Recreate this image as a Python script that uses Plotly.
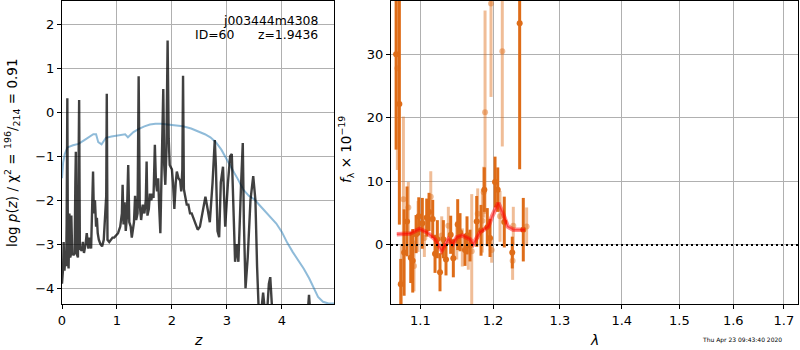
import numpy as np
import plotly.graph_objects as go

# ---------------- Left panel: redshift PDF ----------------
z_pz = [0.00, 0.02, 0.03, 0.045, 0.06, 0.075, 0.085, 0.097, 0.108, 0.12, 0.135, 0.15, 0.16, 0.17,
        0.185, 0.21, 0.23, 0.243, 0.252, 0.262, 0.29, 0.303, 0.312, 0.325, 0.36, 0.38, 0.40, 0.43,
        0.45, 0.48, 0.50, 0.53, 0.55, 0.565, 0.58, 0.60, 0.62, 0.635, 0.65, 0.67, 0.70, 0.73,
        0.76, 0.79, 0.805, 0.815, 0.828, 0.86, 0.89, 0.92, 0.95, 0.98, 1.02, 1.06, 1.09, 1.103,
        1.12, 1.14, 1.16, 1.18, 1.205, 1.225, 1.25, 1.27, 1.29, 1.31, 1.33, 1.35, 1.375, 1.395,
        1.415, 1.44, 1.47, 1.50, 1.525, 1.54, 1.555, 1.58, 1.60, 1.625, 1.645, 1.665, 1.69, 1.71,
        1.73, 1.75, 1.77, 1.79, 1.81, 1.83, 1.843, 1.86, 1.88, 1.90, 1.922, 1.942, 1.96, 1.98,
        2.00, 2.02, 2.045, 2.07, 2.09, 2.12, 2.15, 2.17, 2.19, 2.203, 2.218, 2.24, 2.27, 2.30,
        2.33, 2.36, 2.40, 2.43, 2.47, 2.51, 2.56, 2.61, 2.65, 2.69, 2.74, 2.78, 2.80, 2.83,
        2.86, 2.89, 2.93, 2.97, 3.02, 3.06, 3.09, 3.12, 3.15, 3.18, 3.21, 3.26, 3.29, 3.31,
        3.34, 3.38, 3.43, 3.48, 3.52, 3.55, 3.58, 3.62, 3.66, 3.69, 3.73, 3.765, 3.79, 3.82,
        3.86, 4.00, 4.30, 4.47, 4.495, 4.52, 4.70, 4.95]
logp = [-3.90, -3.55, -2.95, -3.60, -3.30, -3.50, -2.50, 0.32, -3.30, -3.55, -2.30, -3.30, -3.25, -2.35,
        -3.20, -3.25, -3.20, -1.60, -0.90, -3.20, -3.30, -1.00, 0.28, -3.10, -3.15, -2.95, -3.20, -3.00,
        -2.75, -3.10, -2.85, -3.10, -2.00, -1.35, -2.30, -2.00, -2.60, -2.40, -2.75, -2.90, -3.00, -3.05,
        -2.90, -2.20, -1.90, 0.42, -2.90, -2.95, -2.90, -2.85, -2.85, -2.80, -2.75, -2.60, -2.30, -1.65,
        -2.55, -2.05, -2.70, -2.40, -1.20, -2.50, -2.60, -2.85, -2.60, -2.50, -1.90, -2.45, -2.30, 0.82,
        -2.10, -2.45, -2.10, -2.30, -2.00, -1.12, -2.35, -2.20, -1.85, -2.00, -1.85, -1.95, -0.74, -1.60,
        -1.80, -1.50, -2.20, -2.75, -1.50, 0.00, 0.53, -1.20, -1.65, -0.90, 1.63, -0.60, -1.20, -1.25,
        -1.30, -1.60, -2.20, -1.60, -1.35, -1.50, -1.55, -1.80, -1.30, 0.83, -1.75, -1.90, -2.10, -2.10,
        -2.30, -2.30, -2.45, -2.55, -2.67, -2.60, -2.30, -1.92, -2.20, -2.50, -1.60, -0.63, -1.20, -2.70,
        -2.84, -1.60, -1.24, -2.60, -1.60, -1.00, -0.95, -2.00, -3.40, -3.00, -3.40, -1.60, -0.70, -2.50,
        -4.00, -3.30, -2.00, -1.45, -2.00, -3.50, -4.50, -4.60, -4.10, -4.50, -4.60, -3.90, -3.75, -4.40,
        -5.00, -5.50, -5.50, -4.60, -4.15, -4.60, -5.50, -5.50]

z_chi = [0.00, 0.02, 0.05, 0.10, 0.20, 0.30, 0.40, 0.50, 0.57, 0.62, 0.66, 0.72, 0.80, 0.90, 1.00,
         1.10, 1.15, 1.20, 1.25, 1.30, 1.40, 1.50, 1.60, 1.70, 1.80, 1.95, 2.10, 2.20, 2.35, 2.50,
         2.60, 2.70, 2.80, 2.90, 3.00, 3.10, 3.20, 3.30, 3.40, 3.50, 3.60, 3.70, 3.80, 3.90, 4.00,
         4.10, 4.20, 4.30, 4.40, 4.50, 4.57, 4.66, 4.75, 4.85, 4.95]
chi_scaled = [-1.50, -1.15, -0.95, -0.80, -0.75, -0.72, -0.64, -0.56, -0.50, -0.50, -0.68, -0.73, -0.58,
              -0.55, -0.53, -0.51, -0.50, -0.57, -0.52, -0.45, -0.38, -0.32, -0.28, -0.26, -0.26, -0.28,
              -0.30, -0.32, -0.37, -0.44, -0.50, -0.57, -0.68, -0.85, -1.06, -1.30, -1.52, -1.76, -1.90,
              -1.98, -2.12, -2.25, -2.38, -2.53, -2.72, -2.97, -3.18, -3.36, -3.56, -3.78, -3.97, -4.20,
              -4.31, -4.35, -4.35]

# ---------------- Right panel: spectrum ----------------
wave_a = [1.0685, 1.0727, 1.0745, 1.0788, 1.0826, 1.0874, 1.0900, 1.0944, 1.0979, 1.1026, 1.1084,
          1.1115, 1.1164, 1.1195, 1.1226, 1.1262, 1.1307, 1.1343, 1.1407, 1.1443, 1.1503, 1.1535,
          1.1604, 1.1632, 1.1674, 1.1768, 1.1829, 1.1876, 1.1918, 1.1957, 1.2029, 1.2068, 1.2163,
          1.2280, 1.2389, 1.2443]
flux_a = [30.0, 22.2, -6.2, -1.2, 3.7, -2.0, -2.5, 1.7, 4.5, 3.4, 4.3,
          5.2, 4.1, -1.4, 0.9, -4.3, 0.9, -2.3, 1.6, -2.1, 3.2, 2.0,
          -0.8, 1.5, -0.1, 3.7, 2.3, 8.7, 2.8, 1.1, 9.9, 8.7, 3.6,
          -1.2, 34.9, 2.4]
err_a = [15.0, 19.0, 4.0, 6.8, 5.5, 4.0, 5.0, 3.0, 3.0, 4.0, 3.0,
         3.0, 3.0, 3.0, 3.0, 3.0, 3.0, 2.5, 3.0, 3.0, 4.0, 3.0,
         2.5, 3.0, 2.5, 4.0, 4.0, 3.5, 3.0, 3.0, 4.0, 3.5, 4.0,
         2.5, 23.0, 5.0]

wave_b = [1.0701, 1.0753, 1.0779, 1.0843, 1.0917, 1.0970, 1.1053, 1.1138, 1.1285, 1.1375, 1.1490,
          1.1567, 1.1650, 1.1698, 1.1782, 1.1847, 1.1867, 1.1886, 1.1971, 1.1981, 1.2101, 1.2134,
          1.2285, 1.2295, 1.2493]
flux_b = [27.8, -6.0, 7.2, 5.9, -3.3, 2.9, 1.1, 7.6, 1.5, 3.0, 0.7,
          -0.4, -0.9, -1.0, 4.9, 3.8, 8.3, 20.9, 38.0, -0.8, 4.5, 30.5,
          -2.5, 3.0, 2.9]
err_b = [16.0, 6.0, 13.0, 4.0, 4.0, 4.0, 3.0, 4.0, 3.0, 3.0, 3.0,
         3.0, 3.0, 9.0, 4.0, 5.0, 4.0, 16.0, 14.7, 2.0, 4.0, 15.0,
         3.0, 3.0, 3.0]

wave_model = [1.0694, 1.0865, 1.0988, 1.1084, 1.1195, 1.1285, 1.1375, 1.1435, 1.1490, 1.1567, 1.1674,
              1.1720, 1.1815, 1.1933, 1.1990, 1.2076, 1.2134, 1.2213, 1.2295, 1.2468]
flux_model = [1.7, 1.8, 2.5, 2.0, 0.9, -0.9, 0.9, 0.15, 1.2, 1.5, 0.9,
              0.15, 2.0, 2.9, 4.6, 6.6, 5.2, 2.9, 2.4, 2.4]

left_xticks = [0, 1, 2, 3, 4]
left_yticks = [-4, -3, -2, -1, 0, 1, 2]
right_xticks = [1.1, 1.2, 1.3, 1.4, 1.5, 1.6, 1.7]
right_yticks = [0, 10, 20, 30]

ORANGE = "rgb(222,108,24)"
ORANGE_L = "rgba(222,108,24,0.45)"
FONT = "DejaVu Sans"

fig = go.Figure()

fig.add_trace(go.Scatter(x=z_chi, y=chi_scaled, mode="lines",
                         line=dict(color="rgba(31,119,180,0.5)", width=2),
                         xaxis="x", yaxis="y", showlegend=False))
fig.add_trace(go.Scatter(x=z_pz, y=logp, mode="lines",
                         line=dict(color="rgba(0,0,0,0.75)", width=2.4),
                         xaxis="x", yaxis="y", showlegend=False))

fig.add_trace(go.Scatter(x=wave_b, y=flux_b, mode="markers",
                         marker=dict(color=ORANGE_L, size=6),
                         error_y=dict(type="data", array=err_b, color=ORANGE_L, thickness=3, width=0),
                         xaxis="x2", yaxis="y2", showlegend=False))
fig.add_trace(go.Scatter(x=wave_a, y=flux_a, mode="markers",
                         marker=dict(color=ORANGE, size=6),
                         error_y=dict(type="data", array=err_a, color=ORANGE, thickness=3, width=0),
                         xaxis="x2", yaxis="y2", showlegend=False))
fig.add_trace(go.Scatter(x=wave_model, y=flux_model, mode="lines",
                         line=dict(color="rgba(255,0,0,0.45)", width=4.5),
                         xaxis="x2", yaxis="y2", showlegend=False))
fig.add_trace(go.Scatter(x=wave_model, y=flux_model, mode="lines",
                         line=dict(color="rgba(255,0,0,0.5)", width=1.5),
                         xaxis="x2", yaxis="y2", showlegend=False))

fig.add_shape(type="line", xref="x2 domain", yref="y2", x0=0, x1=1, y0=0, y1=0,
              line=dict(color="black", width=2, dash="2px,3px"))

axis_common = dict(showline=True, linecolor="black", linewidth=1, mirror=True,
                   ticks="outside", ticklen=4, tickwidth=1, tickcolor="black",
                   showgrid=True, gridcolor="#b0b0b0", gridwidth=1, zeroline=False,
                   automargin=False,
                   tickfont=dict(family=FONT, size=13, color="black"))

Y0 = 1 - 304 / 350
Y1 = 1 - 1 / 350

fig.update_layout(
    width=800, height=350,
    margin=dict(l=0, r=0, t=0, b=0, autoexpand=False),
    paper_bgcolor="white", plot_bgcolor="white",
    font=dict(family=FONT, size=13, color="black"),
    xaxis=dict(domain=[62 / 800, 334 / 800], range=[0, 4.95], tickvals=left_xticks,
               anchor="y", **axis_common),
    yaxis=dict(domain=[Y0, Y1], range=[-4.36, 2.53], tickvals=left_yticks,
               anchor="x", **axis_common),
    xaxis2=dict(domain=[391 / 800, 798 / 800], type="log",
                range=[np.log10(1.062), np.log10(1.729)],
                tickvals=right_xticks, ticktext=[str(v) for v in right_xticks],
                anchor="y2", **axis_common),
    yaxis2=dict(domain=[Y0, Y1], range=[-9.3, 38.4], tickvals=right_yticks,
                anchor="x2", **axis_common),
)

def px(x):
    return x / 800

def py(y):
    return 1 - y / 350

annos = [
    dict(x=px(320), y=py(20), text="j003444m4308", xanchor="right", yanchor="middle",
         font=dict(size=12.4)),
    dict(x=px(320), y=py(35), text="ID=60      z=1.9436", xanchor="right", yanchor="middle",
         font=dict(size=12.4)),
    dict(x=px(198), y=py(340), text="<i>z</i>", xanchor="center", yanchor="middle",
         font=dict(size=14)),
    dict(x=px(594), y=py(340), text="<i>λ</i>", xanchor="center", yanchor="middle",
         font=dict(size=14)),
    dict(x=px(12), y=py(153), textangle=-90, xanchor="center", yanchor="middle",
         text="log <i>p</i>(<i>z</i>) / χ<sup>2</sup> = <sup>196</sup>/<sub>214</sub> = 0.91",
         font=dict(size=13.5)),
    dict(x=px(346), y=py(150), textangle=-90, xanchor="center", yanchor="middle",
         text="<i>f</i><sub>λ</sub> × 10<sup>−19</sup>", font=dict(size=13.5)),
    dict(x=px(742), y=py(340), text="Thu Apr 23 09:43:40 2020", xanchor="center",
         yanchor="middle", font=dict(size=6)),
]
for a in annos:
    fig.add_annotation(xref="paper", yref="paper", showarrow=False, **a)

fig.write_html("out.html", config={"displayModeBar": False},
               post_script="document.body.style.margin='0';document.body.style.overflow='hidden';")
